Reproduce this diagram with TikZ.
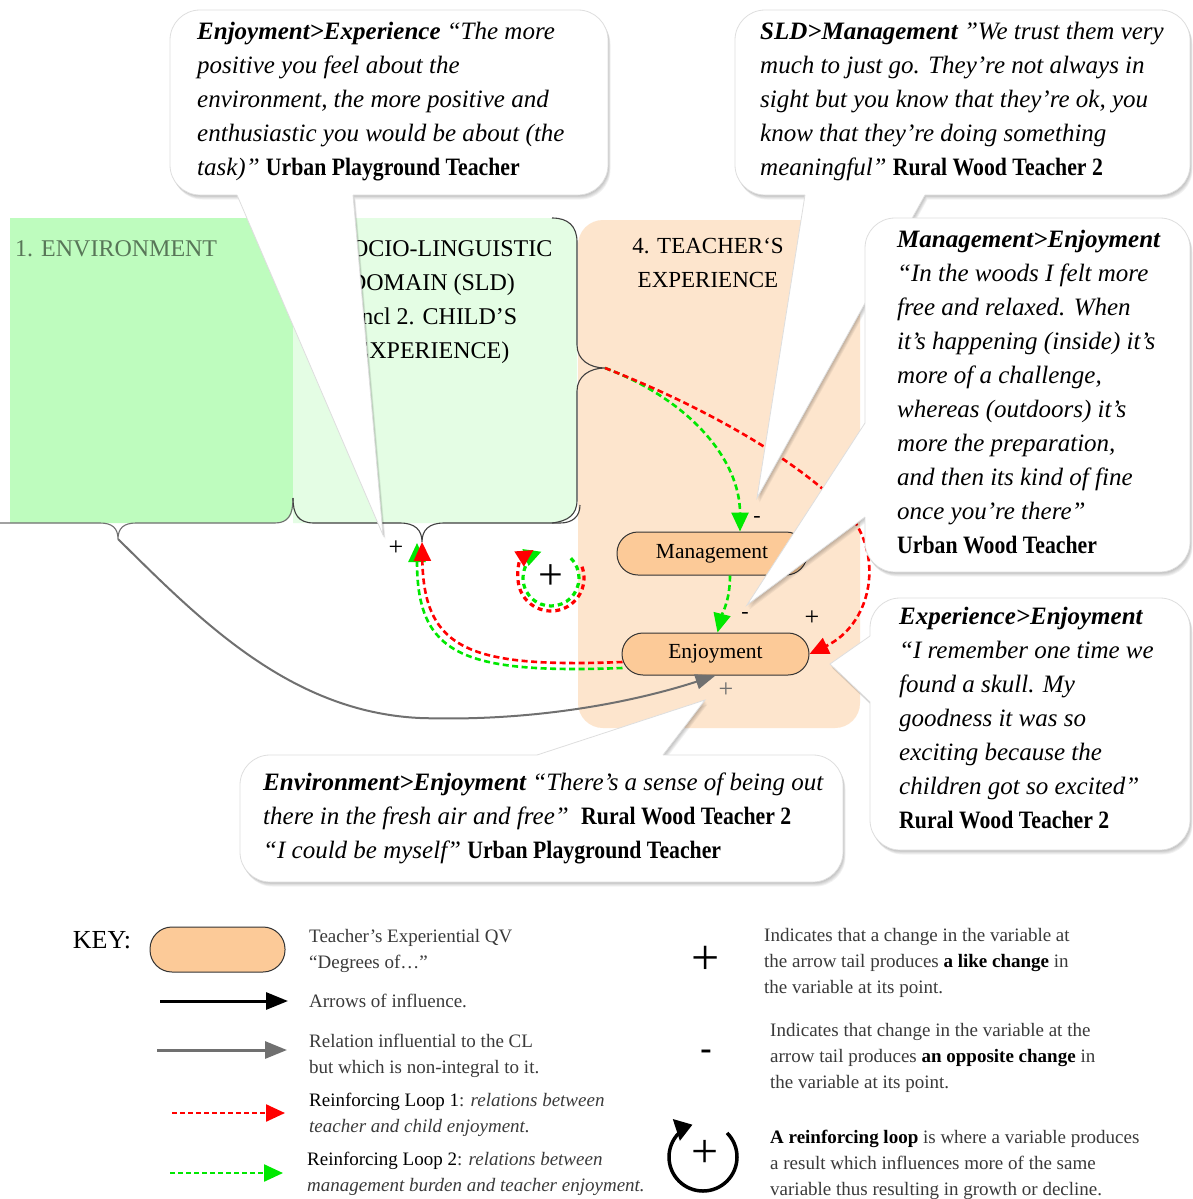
\documentclass[tikz,border=0pt]{standalone}
\usepackage{fontspec}
\usepackage{graphicx}
\setmainfont{Liberation Serif}
\usetikzlibrary{arrows.meta,calc}

\definecolor{envfill}{RGB}{190,252,190}
\definecolor{sldfill}{RGB}{228,253,228}
\definecolor{teafill}{RGB}{253,229,205}
\definecolor{qvfill}{RGB}{252,202,152}
\definecolor{loopred}{RGB}{255,0,0}
\definecolor{loopgreen}{RGB}{0,232,0}
\definecolor{relgray}{RGB}{112,112,112}
\definecolor{envtext}{RGB}{88,118,88}
\definecolor{keytext}{RGB}{58,58,58}

% speaker name after a quotation
\newcommand{\who}[1]{\scalebox{0.87}[1]{\upshape\bfseries #1}}

% speech bubble: #1,#2 corners, #3 pointer outline (base -- tip -- base), #4 extra fill points inside the bubble
\newcommand{\speech}[4]{%
  \foreach \s in {1,2,3,4,5}{%
    \fill[black, opacity=0.05, rounded corners=30pt, shift={(0.5*\s,0.9*\s)}] #1 rectangle #2;
    \fill[black, opacity=0.05, shift={(0.5*\s,0.9*\s)}] #3 -- cycle;}
  \fill[white, rounded corners=30pt] #1 rectangle #2;
  \draw[black!13, line width=0.8pt, rounded corners=30pt] #1 rectangle #2;
  \fill[white] #3 #4 -- cycle;
  \draw[black!13, line width=0.8pt] #3;
}

\begin{document}
\begin{tikzpicture}[x=1pt, y=-1pt,
  qv/.style={draw=black!80, line width=1pt, fill=qvfill, rounded corners=21pt,
    minimum width=190pt, minimum height=43pt, inner sep=0pt,
    font=\fontsize{21.5}{24}\selectfont},
  quote/.style={anchor=north west, inner sep=0pt, align=left,
    font=\fontsize{25}{34}\selectfont\itshape},
  head/.style={inner sep=0pt, align=center, font=\fontsize{24}{34}\selectfont},
  keytxt/.style={anchor=north west, inner sep=0pt, align=left, text=keytext,
    font=\fontsize{19}{26}\selectfont},
  sign/.style={inner sep=0pt, font=\fontsize{26}{26}\selectfont},
  bracestyle/.style={draw=black!75, line width=1.1pt},
  relarrow/.style={draw=relgray, line width=2pt, -{Triangle[length=20pt,width=15pt]}},
  influence/.style={draw=black, line width=3pt, -{Triangle[length=22pt,width=17pt]}},
  loopone/.style={draw=loopred, line width=2.6pt, dash pattern=on 6pt off 3.5pt,
    -{Triangle[length=19pt,width=17pt]}},
  looptwo/.style={draw=loopgreen, line width=2.6pt, dash pattern=on 6pt off 3.5pt,
    -{Triangle[length=19pt,width=17pt]}},
]
\useasboundingbox (0,0) rectangle (1193,1199);
\fill[white] (0,0) rectangle (1193,1199);

% ---------- domains ----------
\fill[teafill, rounded corners=25pt] (578,220) rectangle (860,728);
\fill[envfill] (10,218) -- (293,218) -- (293,505) .. controls (293,517) and (287,523) .. (275,523) -- (10,523) -- cycle;
\fill[sldfill] (293,218) -- (552,218) .. controls (568,218) and (577,226) .. (577,242)
  -- (577,500) .. controls (577,515) and (568,523) .. (552,523) -- (293,523) -- cycle;

\node[head, anchor=north west, text=envtext] (envlabel) at (15,240) {1. ENVIRONMENT};
\node[head, anchor=north] (sldlabel) at (432,240) {3. SOCIO-LINGUISTIC\\DOMAIN (SLD)\\(incl 2. CHILD’S\\EXPERIENCE)};
\node[head, anchor=north, font=\fontsize{23}{34}\selectfont] (tealabel) at (708,238) {4. TEACHER‘S\\EXPERIENCE};

% braces
\coordinate (envtip) at (118,539);
\coordinate (sldR) at (605,368);
\coordinate (sldB) at (422,542);
\draw[draw=relgray, line width=1.1pt] (0,523) -- (100,523) .. controls (112,523) and (118,528) .. (envtip)
  .. controls (118,528) and (124,523) .. (136,523) -- (275,523) .. controls (288,523) and (293,515) .. (293,498);
\draw[bracestyle] (552,218) .. controls (568,218) and (577,226) .. (577,242) -- (577,345)
  .. controls (577,360) and (590,368) .. (sldR) .. controls (590,368) and (577,376) .. (577,391)
  -- (577,500) .. controls (577,515) and (568,521) .. (552,523);
\draw[bracestyle] (293,498) .. controls (293,514) and (298,523) .. (314,523) -- (400,523)
  .. controls (415,523) and (422,530) .. (sldB) .. controls (422,530) and (429,523) .. (444,523)
  -- (560,523) .. controls (572,523) and (580,517) .. (580,505);

% ---------- variables ----------
\node[qv] (mgmt) at (712,553.5) {Management};
\node[qv, minimum width=187pt, minimum height=42pt] (enj) at (715.5,654) {Enjoyment};

% ---------- relations ----------
\draw[relarrow] (envtip) .. controls (200,620) and (290,712) .. (420,718)
  .. controls (540,722) and (640,700) .. (enj.south);

\draw[looptwo] (sldR) .. controls (690,400) and (740,460) .. ([xshift=28pt]mgmt.north);
\draw[looptwo] ($(mgmt.south)+(18,0)$) .. controls +(0,25) and +(5,-20) .. ($(enj.north)+(2,0)$);
\draw[looptwo] ($(enj.west)+(1,14)$) .. controls (462,674) and (417,655) .. ($(sldB)+(-5,1)$);
\draw[loopone] (sldR) .. controls (700,405) and (800,460) .. (850,515)
  .. controls (885,560) and (870,625) .. (enj.east);
\draw[loopone] ($(enj.west)+(1,8)$) .. controls (470,668) and (424,650) .. (sldB);

% reinforcing loop marker
\coordinate (loopc) at (551,578);
\draw[looptwo, line width=3.2pt, dash pattern=on 5pt off 4pt, -{Triangle[length=17pt,width=17pt]}]
  ($(loopc)+(-45:28)$) arc[start angle=-45, end angle=250, radius=28];
\draw[loopone, line width=3.2pt, dash pattern=on 5pt off 4pt, -{Triangle[length=17pt,width=17pt]}]
  ($(loopc)+(-20:33)$) arc[start angle=-20, end angle=238, radius=33];
\node[sign, font=\fontsize{44}{44}\selectfont] (loopsign) at (551,577) {+};

% polarities
\node[sign] (p1) at (396,548) {+};
\node[sign, font=\fontsize{22}{22}\selectfont] (m1) at (757,519) {-};
\node[sign, font=\fontsize{22}{22}\selectfont] (m2) at (745,615) {-};
\node[sign] (p2) at (812,618) {+};
\node[sign, text=relgray] (p3) at (726,690) {+};

% ---------- quotations ----------
\speech{(170,10)}{(608,195)}{(237,195) -- (383,535) -- (353,195)}{-- (353,180) -- (237,180)}
\node[quote] (q1) at (197,22) {{\bfseries Enjoyment>Experience} “The more\\
positive you feel about the\\
environment, the more positive and\\
enthusiastic you would be about (the\\
task)” \who{Urban Playground Teacher}};

\speech{(735,10)}{(1190,195)}{(805,195) -- (757,498) -- (925,195)}{-- (925,180) -- (805,180)}
\node[quote] (q2) at (760,22) {{\bfseries SLD>Management} ”We trust them very\\
much to just go. They're not always in\\
sight but you know that they're ok, you\\
know that they're doing something\\
meaningful” \who{Rural Wood Teacher 2}};

\speech{(865,218)}{(1190,572)}{(865,423) -- (747,605) -- (865,517)}{-- (880,517) -- (880,423)}
\node[quote] (q3) at (897,230) {{\bfseries Management>Enjoyment}\\
“In the woods I felt more\\
free and relaxed. When\\
it’s happening (inside) it’s\\
more of a challenge,\\
whereas (outdoors) it’s\\
more the preparation,\\
and then its kind of fine\\
once you’re there”\\
\who{Urban Wood Teacher}};

\speech{(870,598)}{(1190,850)}{(870,636) -- (830,664) -- (870,702)}{-- (885,702) -- (885,636)}
\node[quote] (q4) at (899,607) {{\bfseries Experience>Enjoyment}\\
“I remember one time we\\
found a skull. My\\
goodness it was so\\
exciting because the\\
children got so excited”\\
\who{Rural Wood Teacher 2}};

\speech{(240,755)}{(843,882)}{(537,755) -- (705,700) -- (663,755)}{-- (663,770) -- (537,770)}
\node[quote] (q5) at (263,773) {{\bfseries Environment>Enjoyment} “There’s a sense of being out\\
there in the fresh air and free”\ \ \who{Rural Wood Teacher 2}\\
“I could be myself” \who{Urban Playground Teacher}};

% ---------- key ----------
\node[inner sep=0pt, font=\fontsize{26}{26}\selectfont] (keyword) at (102,940) {KEY:};
\node[qv, minimum width=135pt, minimum height=45pt, rounded corners=22pt] (kqv) at (217.5,949.5) {};
\node[keytxt] (kqvtxt) at (309,929) {Teacher’s Experiential QV\\“Degrees of…”};

\coordinate (ka1) at (160,1001); \coordinate (ka2) at (288,1001);
\draw[influence] (ka1) -- (ka2);
\node[keytxt] (katxt) at (309,994) {Arrows of influence.};

\coordinate (kb1) at (157,1050); \coordinate (kb2) at (287,1050);
\draw[relarrow, line width=3pt, -{Triangle[length=22pt,width=17pt]}] (kb1) -- (kb2);
\node[keytxt] (kbtxt) at (309,1034) {Relation influential to the CL\\but which is non-integral to it.};

\coordinate (kc1) at (172,1113); \coordinate (kc2) at (285,1113);
\draw[loopone, line width=2.4pt, dash pattern=on 5pt off 3pt] (kc1) -- (kc2);
\node[keytxt] (kctxt) at (309,1093) {{\color{black}Reinforcing Loop 1}: \textit{relations between}\\\textit{teacher and child enjoyment.}};

\coordinate (kd1) at (170,1173); \coordinate (kd2) at (283,1173);
\draw[looptwo, line width=2.4pt, dash pattern=on 5pt off 3pt] (kd1) -- (kd2);
\node[keytxt] (kdtxt) at (307,1152) {{\color{black}Reinforcing Loop 2}: \textit{relations between}\\\textit{management burden and teacher enjoyment.}};

\node[inner sep=0pt, font=\fontsize{50}{50}\selectfont] (kplus) at (706,960) {+};
\node[keytxt] (kplustxt) at (764,928) {Indicates that a change in the variable at\\the arrow tail produces {\color{black}\bfseries a like change} in\\the variable at its point.};

\node[inner sep=0pt, font=\fontsize{34}{34}\selectfont\bfseries] (kminus) at (706,1055) {-};
\node[keytxt] (kminustxt) at (770,1023) {Indicates that change in the variable at the\\arrow tail produces {\color{black}\bfseries an opposite change} in\\the variable at its point.};

\coordinate (kloop) at (703,1157);
\draw[line width=3.5pt, -{Triangle[length=17pt,width=22pt]}]
  ($(kloop)+(-45:34)$) arc[start angle=-45, end angle=252, radius=34];
\node[inner sep=0pt, font=\fontsize{48}{48}\selectfont] (kloopsign) at (705,1154) {+};
\node[keytxt] (klooptxt) at (770,1130) {{\color{black}\bfseries A reinforcing loop} is where a variable produces\\a result which influences more of the same\\variable thus resulting in growth or decline.};
\end{tikzpicture}
\end{document}
